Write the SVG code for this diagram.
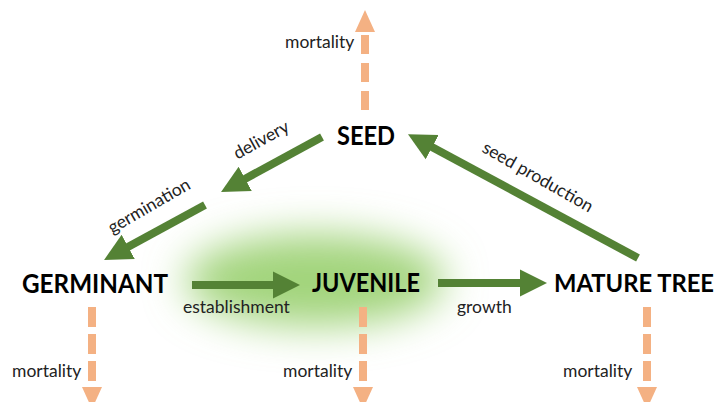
<svg xmlns="http://www.w3.org/2000/svg" width="725" height="402" viewBox="0 0 725 402">
<defs>
<filter id="blur" x="-50%" y="-100%" width="200%" height="300%"><feGaussianBlur stdDeviation="20"/></filter>
<marker id="gh" markerUnits="userSpaceOnUse" markerWidth="30" markerHeight="30" viewBox="0 -12 24 24" refX="2" refY="0" orient="auto"><path d="M0,-11 L22,0 L0,11 z" fill="#548235"/></marker>
</defs>
<style>
.g{stroke:#548235;stroke-width:8;fill:none;marker-end:url(#gh)}
.o{stroke:#F4B183;stroke-width:8;fill:none;stroke-dasharray:20 7}
.oh{fill:#F4B183}
.big{font-family:Lato,"Liberation Sans",sans-serif;font-weight:bold;font-size:26px;fill:#000}
.sm{font-family:Lato,"Liberation Sans",sans-serif;font-size:17.5px;fill:#222}
</style>
<rect width="725" height="402" fill="#fff"/>
<ellipse cx="315" cy="280" rx="130" ry="46" fill="#a2d47c" filter="url(#blur)"/>
<g id="connectors">
<line class="g" x1="322" y1="137" x2="243" y2="180"/>
<line class="g" x1="205" y1="205" x2="126" y2="248"/>
<line class="g" x1="638" y1="258" x2="430" y2="146"/>
<line class="g" x1="192" y1="285" x2="275" y2="285"/>
<line class="g" x1="438" y1="283" x2="522" y2="283"/>
<line class="o" x1="365" y1="110" x2="365" y2="33" style="stroke-dasharray:19 9"/>
<polygon class="oh" points="355,32 375,32 365,10"/>
<line class="o" x1="92" y1="307" x2="92" y2="385"/>
<polygon class="oh" points="82,387 102,387 92,409"/>
<line class="o" x1="363" y1="307" x2="363" y2="385"/>
<polygon class="oh" points="353,387 373,387 363,409"/>
<line class="o" x1="647" y1="307" x2="647" y2="385"/>
<polygon class="oh" points="637,387 657,387 647,409"/>
<text class="sm" x="264" y="145" text-anchor="middle" transform="rotate(-29 264 145)">delivery</text>
<text class="sm" x="152" y="211" text-anchor="middle" transform="rotate(-30 152 211)">germination</text>
<text class="sm" x="535" y="182" text-anchor="middle" transform="rotate(29.6 535 182)">seed production</text>
<text class="sm" x="183" y="313">establishment</text>
<text class="sm" x="457" y="313">growth</text>
<text class="sm" x="285" y="48">mortality</text>
<text class="sm" x="12" y="377">mortality</text>
<text class="sm" x="283" y="377">mortality</text>
<text class="sm" x="563" y="377">mortality</text>
</g>
<g id="seed"><text class="big" x="337" y="145" textLength="58" lengthAdjust="spacingAndGlyphs">SEED</text></g>
<g id="germinant"><text class="big" x="22" y="293" textLength="146" lengthAdjust="spacingAndGlyphs">GERMINANT</text></g>
<g id="juvenile"><text class="big" x="312" y="292" textLength="108" lengthAdjust="spacingAndGlyphs">JUVENILE</text></g>
<g id="mature-tree"><text class="big" x="554" y="292" style="font-size:24.5px" textLength="160" lengthAdjust="spacingAndGlyphs">MATURE TREE</text></g>
</svg>
